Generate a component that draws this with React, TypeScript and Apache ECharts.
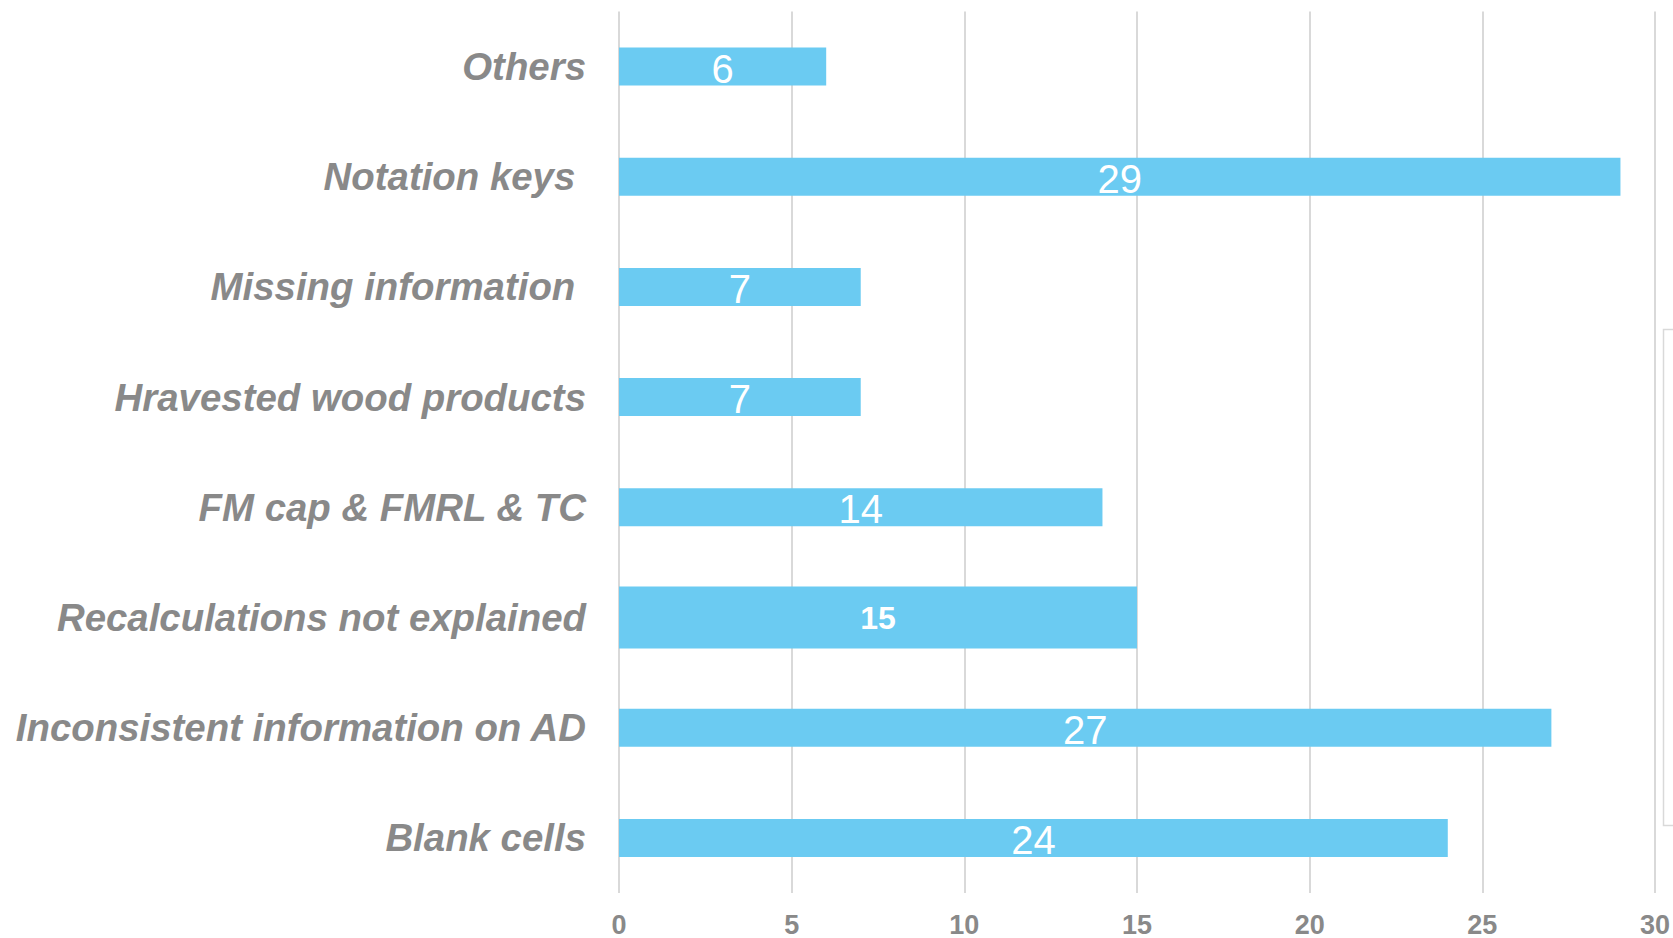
import React, { useEffect, useRef } from "react";
import * as echarts from "echarts";

const categories = [
  "Others",
  "Notation keys ",
  "Missing information ",
  "Hravested wood products",
  "FM cap & FMRL & TC",
  "Recalculations not explained",
  "Inconsistent information on AD",
  "Blank cells",
];
const values = [6, 29, 7, 7, 14, 15, 27, 24];
const xTicks = [0, 5, 10, 15, 20, 25, 30];
const highlighted = "Recalculations not explained";

const BAR = "#6BCBF2";
const GRAY = "#898989";

export default function App() {
  const ref = useRef<HTMLDivElement>(null);
  useEffect(() => {
    if (!ref.current) return;
    const chart = echarts.init(ref.current, undefined, { renderer: "svg" });
    const normalData = values.map((v, i) => (categories[i] === highlighted ? "-" : v));
    const bigData = values.map((v, i) => (categories[i] === highlighted ? v : "-"));
    chart.setOption({
      animation: false,
      backgroundColor: "#ffffff",
      grid: { left: 619, right: 15, top: 11.4, bottom: 42, containLabel: false },
      xAxis: {
        type: "value",
        min: xTicks[0],
        max: xTicks[xTicks.length - 1],
        interval: 5,
        axisLine: { show: false },
        axisTick: { show: false },
        splitLine: { show: true, lineStyle: { color: "#D9D9D9", width: 2 } },
        axisLabel: {
          color: GRAY,
          fontFamily: "'Liberation Sans Narrow', 'Liberation Sans', Arial, sans-serif",
          fontWeight: "bold",
          fontSize: 27,
          margin: 18,
        },
      },
      yAxis: [
        {
          type: "category",
          data: categories,
          inverse: true,
          axisLine: { show: false },
          axisTick: { show: false },
          splitLine: { show: false },
          axisLabel: {
            color: GRAY,
            fontFamily: "'Liberation Sans', Arial, sans-serif",
            fontWeight: "bold",
            fontStyle: "italic",
            fontSize: 38.4,
            margin: 33,
          },
        },
        {
          type: "category",
          data: categories,
          inverse: true,
          position: "left",
          show: false,
        },
      ],
      series: [
        {
          type: "bar",
          yAxisIndex: 0,
          data: normalData,
          barWidth: 38,
          itemStyle: { color: BAR },
          label: {
            show: true,
            position: "inside",
            offset: [0, 2],
            color: "#ffffff",
            fontFamily: "'Liberation Sans', Arial, sans-serif",
            fontSize: 40,
            fontWeight: "normal",
          },
        },
        {
          type: "bar",
          yAxisIndex: 1,
          data: bigData,
          barWidth: 62,
          itemStyle: { color: BAR },
          label: {
            show: true,
            position: "inside",
            color: "#ffffff",
            fontFamily: "'Liberation Sans', Arial, sans-serif",
            fontSize: 32,
            fontWeight: "bold",
          },
        },
      ],
      graphic: [
        {
          type: "rect",
          shape: { x: 1663.5, y: 329.5, width: 30, height: 496 },
          style: { fill: "none", stroke: "#D9D9D9", lineWidth: 1.5 },
        },
      ],
    });
    return () => chart.dispose();
  }, []);
  return (
    <div
      ref={ref}
      style={{ position: "fixed", left: 0, top: 0, width: 1673, height: 938 }}
    />
  );
}
